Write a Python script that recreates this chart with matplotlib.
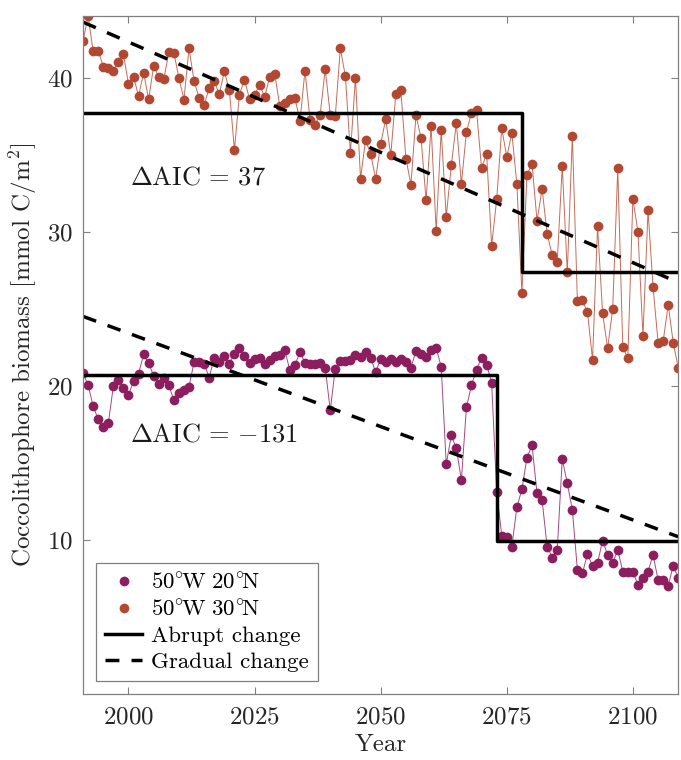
import numpy as np
import matplotlib
matplotlib.use("Agg")
import matplotlib.pyplot as plt

plt.rcParams["font.family"] = "serif"
plt.rcParams["font.serif"] = ["cmr10"]
plt.rcParams["mathtext.fontset"] = "cm"
plt.rcParams["axes.formatter.use_mathtext"] = True

years = np.arange(1991, 2110)

# 50W 30N
biomass_30n = [
    42.4, 44.0, 41.7, 41.75, 40.7, 40.6, 40.46, 41.04, 41.5, 39.6,
    40.07, 38.8, 40.3, 38.6, 40.76, 40.03, 39.9, 41.63, 41.6, 39.99,
    38.56, 41.9, 39.8, 38.67, 38.24, 39.3, 39.75, 38.93, 40.4, 39.2,
    35.3, 38.9, 39.86, 38.6, 38.9, 39.53, 38.74, 40.07, 40.25, 38.13,
    38.35, 38.6, 38.67, 37.2, 40.46, 37.23, 36.94, 37.6, 40.55, 37.6,
    37.5, 41.9, 40.1, 35.1, 40.0, 33.45, 35.93, 35.07, 33.43, 35.7,
    37.3, 34.96, 38.93, 39.17, 34.74, 33.06, 37.55, 36.08, 32.05, 36.83,
    30.04, 36.58, 30.95, 34.31, 37.05, 33.1, 36.47, 37.7, 37.9, 34.1,
    35.07, 29.1, 32.1, 36.7, 34.85, 36.4, 33.1, 26.0, 33.7, 34.4,
    30.7, 32.78, 29.87, 28.47, 28.03, 34.25, 27.35, 36.23, 25.5, 25.55,
    24.76, 21.69, 30.36, 24.69, 22.43, 24.97, 34.1, 22.49, 21.8, 32.15,
    30.0, 23.24, 31.38, 26.4, 22.8, 22.88, 25.25, 22.8, 21.15,
]

# 50W 20N
biomass_20n = [
    20.83, 20.03, 18.67, 17.81, 17.33, 17.55, 19.97, 20.36, 19.88, 19.38,
    20.31, 20.79, 22.04, 21.48, 20.62, 20.1, 20.53, 20.03, 19.06, 19.53,
    19.71, 19.92, 21.54, 21.54, 21.44, 20.53, 21.83, 21.54, 21.9, 21.44,
    22.08, 22.47, 21.9, 21.48, 21.76, 21.83, 21.44, 21.7, 21.9, 21.97,
    22.3, 20.99, 21.33, 22.19, 21.48, 21.39, 21.44, 21.48, 21.18, 18.41,
    21.11, 21.6, 21.6, 21.65, 21.97, 21.87, 22.19, 21.83, 20.88, 21.76,
    21.54, 21.76, 21.54, 21.76, 21.54, 21.18, 22.25, 22.04, 21.87, 22.3,
    22.47, 21.22, 14.9, 16.79, 15.93, 13.88, 18.59, 20.03, 21.05, 21.8,
    21.37, 20.2, 13.12, 10.27, 10.17, 9.56, 12.11, 13.28, 15.32, 16.15,
    13.02, 12.58, 9.56, 8.85, 9.35, 15.22, 13.67, 11.94, 8.05, 7.84,
    9.07, 8.31, 8.52, 9.95, 9.02, 8.52, 9.35, 7.94, 7.94, 7.94,
    7.08, 7.55, 7.94, 9.02, 7.4, 7.4, 7.01, 8.33, 7.51,
]

# abrupt (step) fits: level before, level after, break year
abrupt_30n = (37.7, 27.4, 2078)
abrupt_20n = (20.7, 9.9, 2073)
# gradual (linear) fits: value at start, value at end
gradual_30n = (43.6, 26.7)
gradual_20n = (24.5, 10.2)

aic_30n = "37"
aic_20n = "{-}131"

col_20n = "#8c1d5f"
col_30n = "#b34832"


def step_line(ax, level_a, level_b, brk, **kw):
    xs = [years[0], brk, brk, years[-1]]
    ys = [level_a, level_a, level_b, level_b]
    ax.plot(xs, ys, **kw)


fig = plt.figure(figsize=(6.81, 7.60), dpi=100)
ax = fig.add_axes([0.122, 0.087, 0.874, 0.892])

ax.plot(years, biomass_20n, "-", color=col_20n, lw=0.7, alpha=0.8)
ax.plot(years, biomass_20n, "o", color=col_20n, ms=7, mec="none",
        label=r"$50^{\circ}\!\mathrm{W}\ 20^{\circ}\!\mathrm{N}$")
ax.plot(years, biomass_30n, "-", color=col_30n, lw=0.7, alpha=0.8)
ax.plot(years, biomass_30n, "o", color=col_30n, ms=7, mec="none",
        label=r"$50^{\circ}\!\mathrm{W}\ 30^{\circ}\!\mathrm{N}$")

step_line(ax, *abrupt_30n, color="black", lw=2.5, label="Abrupt change")
step_line(ax, *abrupt_20n, color="black", lw=2.5)
ax.plot([years[0], years[-1]], gradual_30n, color="black", lw=2.5, ls=(0, (4, 3.5)), label="Gradual change")
ax.plot([years[0], years[-1]], gradual_20n, color="black", lw=2.5, ls=(0, (4, 3.5)))

ax.text(2000.3, 33.5, r"$\Delta\mathrm{AIC}\, =\, %s$" % aic_30n, fontsize=19, va="center", color="#1a1a1a")
ax.text(2000.3, 16.8, r"$\Delta\mathrm{AIC}\, =\, %s$" % aic_20n, fontsize=19, va="center", color="#1a1a1a")

ax.set_xlim(1991, 2109)
ax.set_ylim(0, 44)
ax.set_xticks([2000, 2025, 2050, 2075, 2100])
ax.set_yticks([10, 20, 30, 40])
ax.tick_params(direction="in", top=True, right=True, labelsize=18, colors="#262626",
               length=5, width=0.8)
ax.tick_params(axis="x", pad=9)
ax.tick_params(axis="y", pad=7)
ax.tick_params(axis="both", color="#808080")
for sp in ax.spines.values():
    sp.set_color("#808080")
    sp.set_linewidth(0.9)

ax.set_xlabel("Year", fontsize=18, color="#262626", labelpad=4)
ax.set_ylabel(r"Coccolithophore biomass [mmol C/m$^2$]", fontsize=18, color="#262626", labelpad=6)

leg = ax.legend(loc="lower left", bbox_to_anchor=(0.022, 0.019), borderaxespad=0,
                fontsize=16.5, fancybox=False, edgecolor="#808080", framealpha=1,
                handlelength=1.6, handletextpad=0.4, labelspacing=0.25, borderpad=0.4)
leg.get_frame().set_linewidth(0.9)

fig.savefig("out.png", dpi=100)
